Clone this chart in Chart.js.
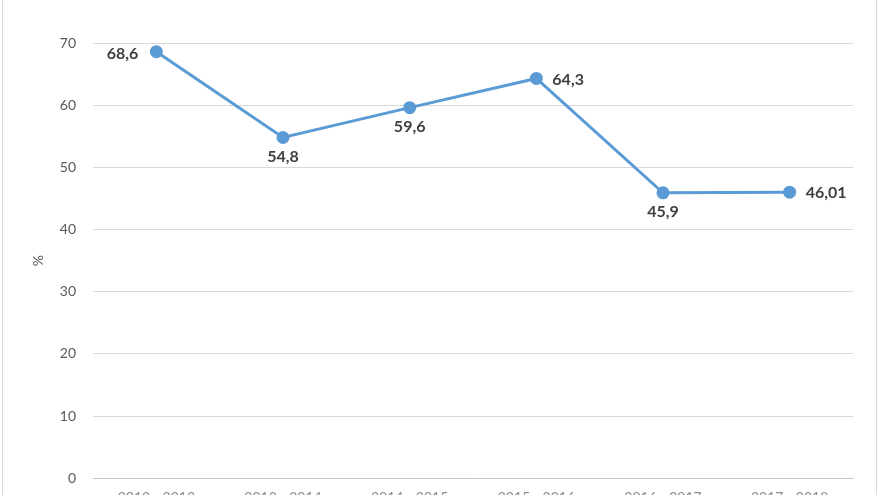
<!doctype html>
<html>
<head>
  <title>%</title>
  <script src="https://cdn.jsdelivr.net/npm/chart.js@4.4.1/dist/chart.umd.min.js"></script>
  <style>
    html, body { margin: 0; padding: 0; background: #fff; overflow: hidden; }
    #wrap { position: relative; width: 880px; height: 521px; }
    #edgeL { position: absolute; left: 2px; top: 0; width: 1px; height: 495px; background: #d9d9d9; }
    #edgeR { position: absolute; left: 876px; top: 0; width: 1px; height: 495px; background: #d9d9d9; }
  </style>
</head>
<body>
  <div id="wrap">
    <canvas id="canvas" width="880" height="521"></canvas>
    <div id="edgeL"></div>
    <div id="edgeR"></div>
  </div>

  <script>
    var labels = ["2012 - 2013", "2013 - 2014", "2014 - 2015", "2015 - 2016", "2016 - 2017", "2017 - 2018"];
    var values = [68.6, 54.8, 59.6, 64.3, 45.9, 46.01];
    var valueText = ["68,6", "54,8", "59,6", "64,3", "45,9", "46,01"];
    var labelPos = ["left", "below", "below", "right", "below", "right"];

    // data labels next to each point
    var pointLabels = {
      id: 'pointLabels',
      afterDatasetsDraw: function(chart) {
        var ctx = chart.ctx;
        var meta = chart.getDatasetMeta(0);
        ctx.save();
        ctx.font = 'bold 16px Lato, "Open Sans", sans-serif';
        ctx.fillStyle = '#404040';
        meta.data.forEach(function(pt, i) {
          var pos = labelPos[i];
          if (pos === 'left') {
            ctx.textAlign = 'right'; ctx.textBaseline = 'middle';
            ctx.fillText(valueText[i], pt.x - 18, pt.y + 2);
          } else if (pos === 'right') {
            ctx.textAlign = 'left'; ctx.textBaseline = 'middle';
            ctx.fillText(valueText[i], pt.x + 16, pt.y + 1);
          } else {
            ctx.textAlign = 'center'; ctx.textBaseline = 'middle';
            ctx.fillText(valueText[i], pt.x, pt.y + 19);
          }
        });
        ctx.restore();
      }
    };

    new Chart("canvas", {
      type: 'line',
      data: {
        labels: labels,
        datasets: [{
          label: "%",
          data: values,
          borderColor: "#5b9bd5",
          backgroundColor: "#5b9bd5",
          pointBackgroundColor: "#5b9bd5",
          pointBorderColor: "#5b9bd5",
          borderWidth: 3,
          pointRadius: 5,
          tension: 0,
          fill: false
        }]
      },
      options: {
        responsive: false,
        animation: false,
        layout: { padding: { top: 43, right: 27, bottom: 4, left: 0 } },
        plugins: {
          legend: { display: false },
          tooltip: { enabled: false }
        },
        scales: {
          x: {
            offset: true,
            grid: { display: false, drawTicks: false },
            border: { color: '#c8c8c8' },
            ticks: { color: '#8c8c8c', padding: 11, font: { family: 'Lato, "Open Sans", sans-serif', size: 14 } }
          },
          y: {
            min: 0,
            max: 70,
            ticks: { stepSize: 10, color: '#595959', padding: 17, font: { family: 'Lato, "Open Sans", sans-serif', size: 14 } },
            grid: { color: '#d9d9d9', drawTicks: false },
            border: { display: false },
            title: { display: true, text: '%', color: '#595959', padding: { top: 30 }, font: { family: 'Lato, "Open Sans", sans-serif', size: 14 } },
            afterFit: function(scale) { scale.width = 93; }
          }
        }
      },
      plugins: [pointLabels]
    });
  </script>
</body>
</html>
